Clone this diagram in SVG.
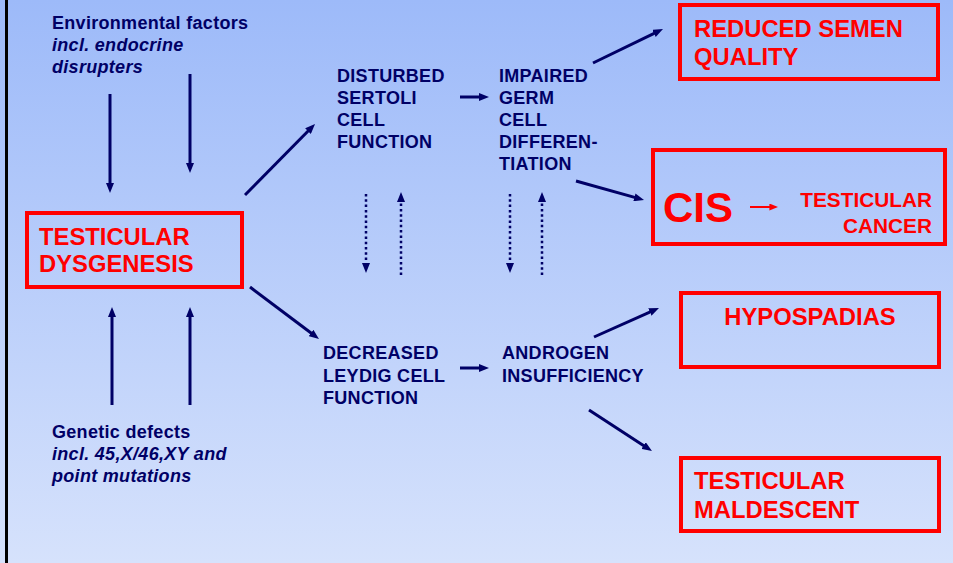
<svg xmlns="http://www.w3.org/2000/svg" width="953" height="563" viewBox="0 0 953 563">
<defs>
<linearGradient id="bg" x1="0" y1="0" x2="0" y2="1">
<stop offset="0" stop-color="#9DBAF9"/>
<stop offset="1" stop-color="#D6E2FC"/>
</linearGradient>
<marker id="ah" viewBox="0 0 10 8" markerWidth="10" markerHeight="8" refX="3" refY="4" orient="auto" markerUnits="userSpaceOnUse">
<path d="M0,0 L10,4 L0,8 z" fill="#000066" stroke="none"/>
</marker>
<marker id="ahr" viewBox="0 0 10 8" markerWidth="9" markerHeight="7" refX="3" refY="4" orient="auto" markerUnits="userSpaceOnUse">
<path d="M0,0 L10,4 L0,8 z" fill="#FF0000" stroke="none"/>
</marker>
</defs>
<style>
.t{font-family:"Liberation Sans",Arial,sans-serif;font-weight:bold;fill:#000066;font-size:18px;letter-spacing:0.3px}
.i{font-style:italic}
.r{font-family:"Liberation Sans",Arial,sans-serif;font-weight:bold;fill:#FF0000;font-size:23.8px}
.box{fill:none;stroke:#FF0000;stroke-width:4}
.a{stroke:#000066;stroke-width:3;fill:none;marker-end:url(#ah)}
.d{stroke:#000066;stroke-width:2.5;fill:none;stroke-dasharray:2.5 2.8;marker-end:url(#ah)}
</style>
<rect x="0" y="0" width="953" height="563" fill="url(#bg)"/>
<line x1="6.5" y1="0" x2="6.5" y2="563" stroke="#000000" stroke-width="3"/>

<g id="env">
<text class="t" x="52" y="29">Environmental factors</text>
<text class="t i" x="52" y="51">incl. endocrine</text>
<text class="t i" x="52" y="73">disrupters</text>
</g>
<g id="genetic">
<text class="t" x="52" y="438">Genetic defects</text>
<text class="t i" x="52" y="460">incl. 45,X/46,XY and</text>
<text class="t i" x="52" y="482">point mutations</text>
</g>
<g id="dysgenesis">
<rect class="box" x="27" y="213" width="215" height="74"/>
<text class="r" x="39" y="245">TESTICULAR</text>
<text class="r" x="39" y="272">DYSGENESIS</text>
</g>
<g id="sertoli">
<text class="t" x="337" y="82">DISTURBED</text>
<text class="t" x="337" y="104">SERTOLI</text>
<text class="t" x="337" y="126">CELL</text>
<text class="t" x="337" y="148">FUNCTION</text>
</g>
<g id="germ">
<text class="t" x="499" y="82">IMPAIRED</text>
<text class="t" x="499" y="104">GERM</text>
<text class="t" x="499" y="126">CELL</text>
<text class="t" x="499" y="148">DIFFEREN-</text>
<text class="t" x="499" y="170">TIATION</text>
</g>
<g id="leydig">
<text class="t" x="323" y="359">DECREASED</text>
<text class="t" x="323" y="382">LEYDIG CELL</text>
<text class="t" x="323" y="404">FUNCTION</text>
</g>
<g id="androgen">
<text class="t" x="502" y="359">ANDROGEN</text>
<text class="t" x="502" y="382">INSUFFICIENCY</text>
</g>
<g id="semen">
<rect class="box" x="680" y="5" width="258" height="74"/>
<text class="r" x="694" y="37">REDUCED SEMEN</text>
<text class="r" x="694" y="65">QUALITY</text>
</g>
<g id="cis">
<rect class="box" x="653" y="150" width="292" height="94"/>
<text class="r" x="663" y="222" style="font-size:42px">CIS</text>
<line x1="750" y1="207" x2="772" y2="207" stroke="#FF0000" stroke-width="2" marker-end="url(#ahr)"/>
<text class="r" x="932" y="207" text-anchor="end" style="font-size:20.8px">TESTICULAR</text>
<text class="r" x="932" y="233" text-anchor="end" style="font-size:20.8px">CANCER</text>
</g>
<g id="hypospadias">
<rect class="box" x="681" y="293" width="258" height="74"/>
<text class="r" x="810" y="325" text-anchor="middle">HYPOSPADIAS</text>
</g>
<g id="maldescent">
<rect class="box" x="681" y="458" width="258" height="73"/>
<text class="r" x="694" y="489">TESTICULAR</text>
<text class="r" x="694" y="518">MALDESCENT</text>
</g>

<g id="connectors">
<line class="a" x1="110" y1="94" x2="110" y2="186"/>
<line class="a" x1="190" y1="74" x2="190" y2="166"/>
<line class="a" x1="245" y1="195" x2="310.1" y2="129"/>
<line class="a" x1="250" y1="287" x2="313.4" y2="334.8"/>
<line class="a" x1="112" y1="405" x2="112" y2="314"/>
<line class="a" x1="190" y1="405" x2="190" y2="314"/>
<line class="a" x1="460" y1="97" x2="482" y2="97"/>
<line class="a" x1="593" y1="63" x2="656.7" y2="32.1"/>
<line class="a" x1="576" y1="181" x2="637.3" y2="198.1"/>
<line class="a" x1="460" y1="368" x2="482" y2="368"/>
<line class="a" x1="594" y1="337" x2="652.6" y2="310.8"/>
<line class="a" x1="589" y1="410" x2="646.1" y2="447.2"/>
<line class="d" x1="366" y1="194" x2="366" y2="266"/>
<line class="d" x1="401" y1="275" x2="401" y2="199"/>
<line class="d" x1="510" y1="194" x2="510" y2="266"/>
<line class="d" x1="542" y1="275" x2="542" y2="199"/>
</g>
</svg>
